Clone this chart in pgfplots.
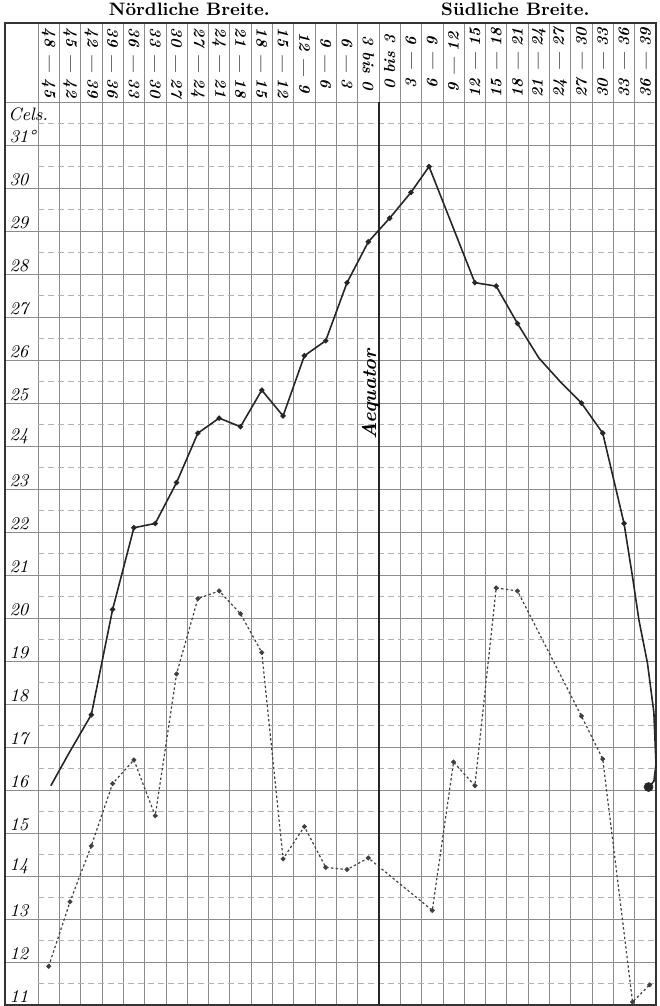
\documentclass[border=0pt]{standalone}
\usepackage{fontspec}
\usepackage{pgfplots}
\pgfplotsset{compat=1.18}

% one column of the sheet = one latitude band of 3 degrees
\pgfplotstableread{
x     t
1.1   16.1
2     16.9
3     17.75
4     20.2
5     22.1
6     22.2
7     23.15
8     24.3
9     24.65
10    24.45
11    25.3
12    24.7
13    26.1
14    26.45
15    27.8
16    28.75
17    29.3
18    29.9
18.85 30.5
21    27.8
22    27.72
23    26.85
24    26.05
25    25.5
26    25.0
27    24.3
28    22.2
28.4  20.95
28.7  19.95
29.1  18.95
29.4  17.8
29.5  16.6
29.4  16.2
29.15 16.07
}\oben

\pgfplotstableread{
x     t
1     11.9
2     13.4
3     14.7
4     16.15
5     16.7
6     15.4
7     18.7
8     20.45
9     20.63
10    20.1
11    19.2
12    14.4
13    15.15
14    14.2
15    14.15
16    14.42
19    13.2
20    16.65
21    16.1
22    20.7
23    20.63
26    17.72
27    16.72
28.4  11.07
29.2  11.47
}\unten

\begin{document}
\begin{tikzpicture}
\useasboundingbox (0,0) rectangle (329.5pt,503pt);
\begin{axis}[
    at={(2.5pt,0.5pt)}, anchor=south west,
    scale only axis, width=325.5pt, height=491pt,
    xmin=-1.05, xmax=29.5, ymin=11, ymax=33.84,
    xtick={0.5,1.5,...,29.5}, ytick={11,...,32},
    xticklabels={}, yticklabels={},
    tick style={draw=none},
    grid=major,
    major grid style={black!45, line width=0.35pt},
    axis line style={black!80, line width=0.6pt},
    clip=false,
]
% half-degree lines
\pgfplotsinvokeforeach{11,...,31}{
  \draw[black!30, line width=0.3pt, dash pattern=on 3pt off 2pt]
    (axis cs:0.5,#1.5) -- (axis cs:29.5,#1.5);
}
\draw[black!85, line width=0.9pt] (axis cs:16.5,11) -- (axis cs:16.5,32);

% degree labels
\pgfplotsinvokeforeach{11,...,30}{
  \node[anchor=south west, inner sep=1pt, font=\small\itshape] at (axis cs:-0.95,#1) {#1};
}
\node[anchor=south west, inner sep=1pt, font=\small\itshape] at (axis cs:-0.95,31) {31°};
\node[anchor=west, inner sep=1pt, font=\small\itshape] at (axis cs:-1.0,31.72) {Cels.};

% titles
\node[font=\small\bfseries] at (axis cs:7.6,34.15) {\addfontfeature{LetterSpace=8}Nördliche Breite.};
\node[font=\small\bfseries] at (axis cs:22.9,34.15) {\addfontfeature{LetterSpace=8}Südliche Breite.};

% column heads
\begin{scope}[every node/.style={font=\footnotesize\bfseries\itshape, inner sep=0pt}]
\node[rotate=-90] at (axis cs:1,32.92) {48 — 45};
\node[rotate=-90] at (axis cs:2,32.92) {45 — 42};
\node[rotate=-90] at (axis cs:3,32.92) {42 — 39};
\node[rotate=-90] at (axis cs:4,32.92) {39 — 36};
\node[rotate=-90] at (axis cs:5,32.92) {36 — 33};
\node[rotate=-90] at (axis cs:6,32.92) {33 — 30};
\node[rotate=-90] at (axis cs:7,32.92) {30 — 27};
\node[rotate=-90] at (axis cs:8,32.92) {27 — 24};
\node[rotate=-90] at (axis cs:9,32.92) {24 — 21};
\node[rotate=-90] at (axis cs:10,32.92) {21 — 18};
\node[rotate=-90] at (axis cs:11,32.92) {18 — 15};
\node[rotate=-90] at (axis cs:12,32.92) {15 — 12};
\node[rotate=-90] at (axis cs:13,32.92) {12 — 9};
\node[rotate=-90] at (axis cs:14,32.92) {9 — 6};
\node[rotate=-90] at (axis cs:15,32.92) {6 — 3};
\node[rotate=-90] at (axis cs:16,32.92) {3 bis 0};
\node[rotate=90] at (axis cs:17,32.92) {0 bis 3};
\node[rotate=90] at (axis cs:18,32.92) {3 — 6};
\node[rotate=90] at (axis cs:19,32.92) {6 — 9};
\node[rotate=90] at (axis cs:20,32.92) {9 — 12};
\node[rotate=90] at (axis cs:21,32.92) {12 — 15};
\node[rotate=90] at (axis cs:22,32.92) {15 — 18};
\node[rotate=90] at (axis cs:23,32.92) {18 — 21};
\node[rotate=90] at (axis cs:24,32.92) {21 — 24};
\node[rotate=90] at (axis cs:25,32.92) {24 — 27};
\node[rotate=90] at (axis cs:26,32.92) {27 — 30};
\node[rotate=90] at (axis cs:27,32.92) {30 — 33};
\node[rotate=90] at (axis cs:28,32.92) {33 — 36};
\node[rotate=90] at (axis cs:29,32.92) {36 — 39};
\end{scope}

\node[rotate=90, font=\bfseries\itshape] at (axis cs:16.12,25.2) {Aequator};

\addplot[black!85, line width=0.8pt, mark=*, mark size=0.9pt,
  mark indices={3,4,5,6,7,8,9,10,11,12,13,14,15,16,17,18,19,20,21,22,25,26,27}]
  table[x=x, y=t] {\oben};
\addplot[black!85, only marks, mark=*, mark size=2.2pt] coordinates {(29.15,16.07)};
\addplot[black!75, line width=0.6pt, dash pattern=on 1.2pt off 1.2pt,
  mark=*, mark size=0.9pt, mark options={solid}] table[x=x, y=t] {\unten};
\end{axis}
\end{tikzpicture}
\end{document}
